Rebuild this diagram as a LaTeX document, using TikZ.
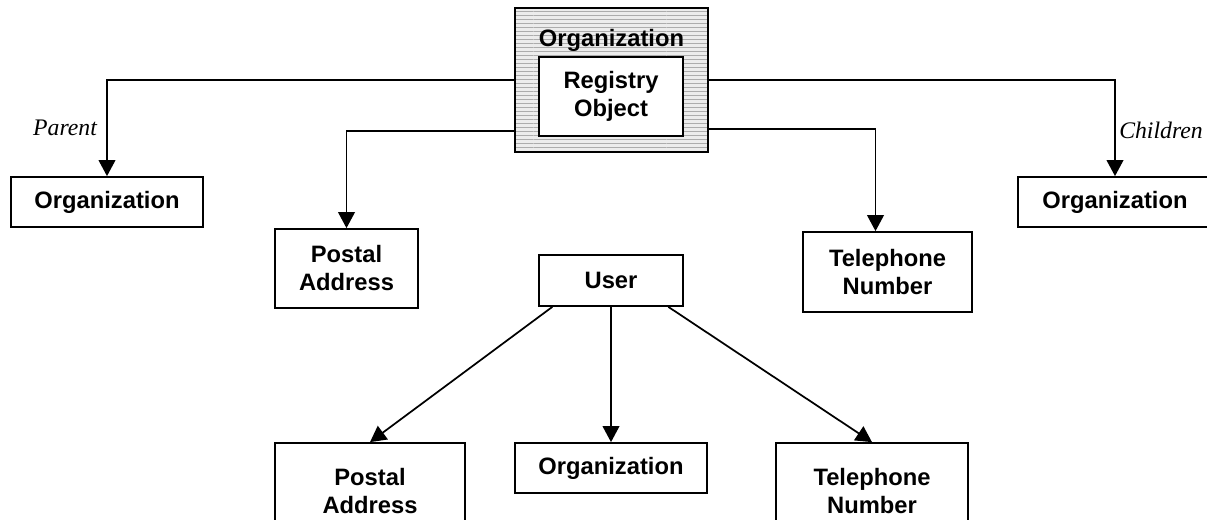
\documentclass[tikz,border=0pt]{standalone}
\usepackage{fontspec}
\setmainfont{Liberation Sans}
\newfontfamily\rolefont{Liberation Serif}
\usetikzlibrary{arrows.meta}
\usetikzlibrary{patterns}
\tikzset{box/.style = {draw, line width=1.3pt, fill=white, align=center, inner sep=0,
    font=\fontsize{17.8}{21}\selectfont\bfseries}}
\tikzset{hatch/.style = {draw, line width=1.3pt, preaction={fill=gray!15},
    pattern=horizontal lines, pattern color=gray!65}}
\tikzset{arr/.style = {line width=1.3pt, -{Triangle[length=12pt, width=12.5pt]}}}
\tikzset{role/.style = {font=\fontsize{17.8}{21}\selectfont\rolefont\itshape}}

\begin{document}
\begin{tikzpicture}[x=0.75pt, y=-0.75pt]
    \useasboundingbox (0,0) rectangle (1207,520);
    \clip (0,0) rectangle (1207,520);

    % registry object inside organization
    \node[hatch, minimum width=144.75pt, minimum height=108pt] (org) at (611.5,80) {};
    \node[font=\fontsize{17.8}{21}\selectfont\bfseries] (orgtitle) at (611.5,40) {Organization};
    \node[box, minimum width=108pt, minimum height=59.25pt] (regobj) at (611,96.5) {Registry\\Object};

    \node[box, minimum width=144pt, minimum height=37.5pt] (leftorg) at (107,202) {Organization};
    \node[box, minimum width=145.5pt, minimum height=37.5pt] (rightorg) at (1115,202) {Organization};
    \node[box, minimum width=107.25pt, minimum height=59.25pt] (postal1) at (346.5,268.5) {Postal\\Address};
    \node[box, minimum width=126.75pt, minimum height=60pt] (tel1) at (887.5,272) {Telephone\\Number};

    % user
    \node[box, minimum width=108pt, minimum height=38.25pt] (user) at (611,280.5) {User};
    \node[box, minimum width=142.5pt, minimum height=72.75pt] (postal2) at (370,491.5) {Postal\\Address};
    \node[box, minimum width=144pt, minimum height=37.5pt] (org2) at (611,468) {Organization};
    \node[box, minimum width=144pt, minimum height=72.75pt] (tel2) at (872,491.5) {Telephone\\Number};

    \node[role] (parent) at (65,128) {Parent};
    \node[role] (children) at (1161,130) {Children};

    \draw[arr] (org.west) -| (leftorg.north);
    \draw[arr] (org.east) -| (rightorg.north);
    \draw[arr] ([yshift=-38pt]org.west) -| (postal1.north);
    \draw[arr] ([yshift=-37pt]org.east) -| ([xshift=-9pt]tel1.north);

    \draw[arr] ([xshift=-44pt]user.south) -- (postal2.north);
    \draw[arr] (user.south) -- (org2.north);
    \draw[arr] ([xshift=43pt]user.south) -- (tel2.north);
  \end{tikzpicture}
\end{document}
